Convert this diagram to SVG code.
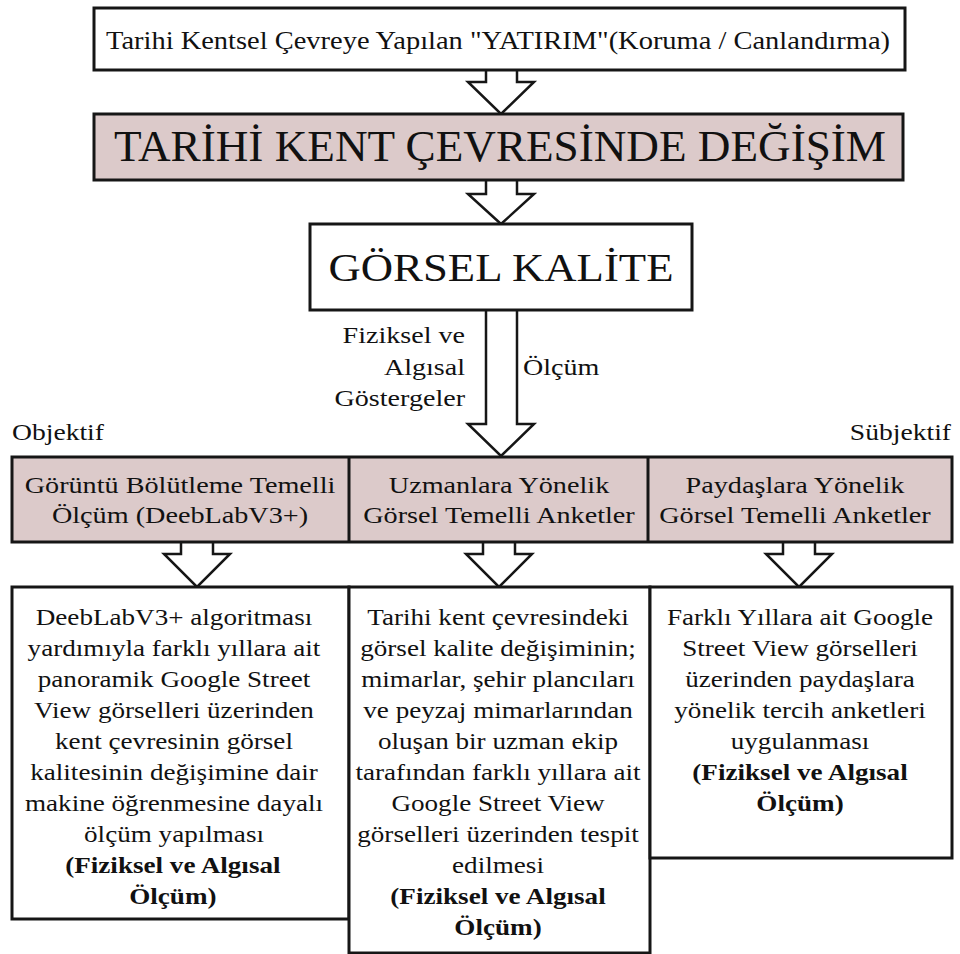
<svg xmlns="http://www.w3.org/2000/svg" width="960" height="954" viewBox="0 0 960 954" font-family="Liberation Serif, Tinos, DejaVu Serif, serif">
  <style>
    .box { stroke: #161616; stroke-width: 3; }
    .plain { fill: #ffffff; }
    .pink { fill: #dccaca; }
    .arrow { fill: #ffffff; stroke: #161616; stroke-width: 2.5; stroke-linejoin: miter; }
    text { fill: #111111; font-size: 24px; }
    .mid { text-anchor: middle; }
    .end { text-anchor: end; }
    .bold { font-weight: bold; }
  </style>

  <rect width="960" height="954" fill="#ffffff"/>

  <!-- connectors: hollow block arrows -->
  <g id="connectors">
    <path class="arrow" d="M486,71 V82 H468 L501,114 L534,82 H517 V71"/>
    <path class="arrow" d="M486,181 V194 H468 L501,224 L534,194 H517 V181"/>
    <path class="arrow" d="M486,311 V424 H468 L501,456 L534,424 H517 V311"/>
    <path class="arrow" d="M181,543 V554 H164 L197,587 L230,554 H213 V543"/>
    <path class="arrow" d="M483,543 V554 H466 L499,587 L532,554 H515 V543"/>
    <path class="arrow" d="M783,543 V554 H766 L799,587 L832,554 H815 V543"/>
  </g>

  <g id="investment">
    <rect class="box plain" x="94" y="8" width="811" height="62"/>
    <text class="mid" x="498" y="49" style="font-size:26px" textLength="784" lengthAdjust="spacingAndGlyphs">Tarihi Kentsel Çevreye Yapılan "YATIRIM"(Koruma / Canlandırma)</text>
  </g>

  <g id="change">
    <rect class="box pink" x="94" y="114" width="809" height="66"/>
    <text class="mid" x="500" y="161" style="font-size:45px" textLength="772" lengthAdjust="spacingAndGlyphs">TARİHİ KENT ÇEVRESİNDE DEĞİŞİM</text>
  </g>

  <g id="visual-quality">
    <rect class="box plain" x="310" y="224" width="382" height="86"/>
    <text class="mid" x="501" y="281" style="font-size:40px" textLength="345" lengthAdjust="spacingAndGlyphs">GÖRSEL KALİTE</text>
  </g>

  <!-- side labels, type set slightly wide -->
  <g id="labels">
    <g transform="translate(465 0) scale(1.17 1)">
      <text class="end" x="0" y="343">Fiziksel ve</text>
      <text class="end" x="0" y="375">Algısal</text>
      <text class="end" x="0" y="406">Göstergeler</text>
    </g>
    <g transform="translate(523 0) scale(1.17 1)">
      <text x="0" y="375">Ölçüm</text>
    </g>
    <g transform="translate(12 0) scale(1.15 1)">
      <text x="0" y="440">Objektif</text>
    </g>
    <g transform="translate(951 0) scale(1.15 1)">
      <text class="end" x="0" y="440">Sübjektif</text>
    </g>
  </g>

  <g id="methods">
    <rect class="box pink" x="12" y="457" width="940" height="85"/>
    <line class="box" x1="349" y1="457" x2="349" y2="542"/>
    <line class="box" x1="648" y1="457" x2="648" y2="542"/>
    <g transform="translate(180 0) scale(1.175 1)">
      <text class="mid" x="0" y="493">Görüntü Bölütleme Temelli</text>
      <text class="mid" x="0" y="523">Ölçüm (DeebLabV3+)</text>
    </g>
    <g transform="translate(499 0) scale(1.175 1)">
      <text class="mid" x="0" y="493">Uzmanlara Yönelik</text>
      <text class="mid" x="0" y="523">Görsel Temelli Anketler</text>
    </g>
    <g transform="translate(795 0) scale(1.175 1)">
      <text class="mid" x="0" y="493">Paydaşlara Yönelik</text>
      <text class="mid" x="0" y="523">Görsel Temelli Anketler</text>
    </g>
  </g>

  <g id="segmentation">
    <rect class="box plain" x="12" y="587" width="337" height="332"/>
    <g transform="translate(174 0) scale(1.13 1)">
      <text class="mid" x="0" y="625">DeebLabV3+ algoritması</text>
      <text class="mid" x="0" y="656">yardımıyla farklı yıllara ait</text>
      <text class="mid" x="0" y="687">panoramik Google Street</text>
      <text class="mid" x="0" y="718">View görselleri üzerinden</text>
      <text class="mid" x="0" y="749">kent çevresinin görsel</text>
      <text class="mid" x="0" y="780">kalitesinin değişimine dair</text>
      <text class="mid" x="0" y="811">makine öğrenmesine dayalı</text>
      <text class="mid" x="0" y="842">ölçüm yapılması</text>
      <text class="mid bold" x="-1" y="873">(Fiziksel ve Algısal</text>
      <text class="mid bold" x="-1" y="904">Ölçüm)</text>
    </g>
  </g>

  <g id="experts">
    <rect class="box plain" x="349" y="587" width="301" height="366"/>
    <g transform="translate(498 0) scale(1.13 1)">
      <text class="mid" x="0" y="625">Tarihi kent çevresindeki</text>
      <text class="mid" x="0" y="656">görsel kalite değişiminin;</text>
      <text class="mid" x="0" y="687">mimarlar, şehir plancıları</text>
      <text class="mid" x="0" y="718">ve peyzaj mimarlarından</text>
      <text class="mid" x="0" y="749">oluşan bir uzman ekip</text>
      <text class="mid" x="0" y="780">tarafından farklı yıllara ait</text>
      <text class="mid" x="0" y="811">Google Street View</text>
      <text class="mid" x="0" y="842">görselleri üzerinden tespit</text>
      <text class="mid" x="0" y="873">edilmesi</text>
      <text class="mid bold" x="0" y="904">(Fiziksel ve Algısal</text>
      <text class="mid bold" x="0" y="935">Ölçüm)</text>
    </g>
  </g>

  <g id="stakeholders">
    <rect class="box plain" x="650" y="587" width="302" height="271"/>
    <g transform="translate(800 0) scale(1.13 1)">
      <text class="mid" x="0" y="625">Farklı Yıllara ait Google</text>
      <text class="mid" x="0" y="656">Street View görselleri</text>
      <text class="mid" x="0" y="687">üzerinden paydaşlara</text>
      <text class="mid" x="0" y="718">yönelik tercih anketleri</text>
      <text class="mid" x="0" y="749">uygulanması</text>
      <text class="mid bold" x="0" y="780">(Fiziksel ve Algısal</text>
      <text class="mid bold" x="0" y="811">Ölçüm)</text>
    </g>
  </g>
</svg>
